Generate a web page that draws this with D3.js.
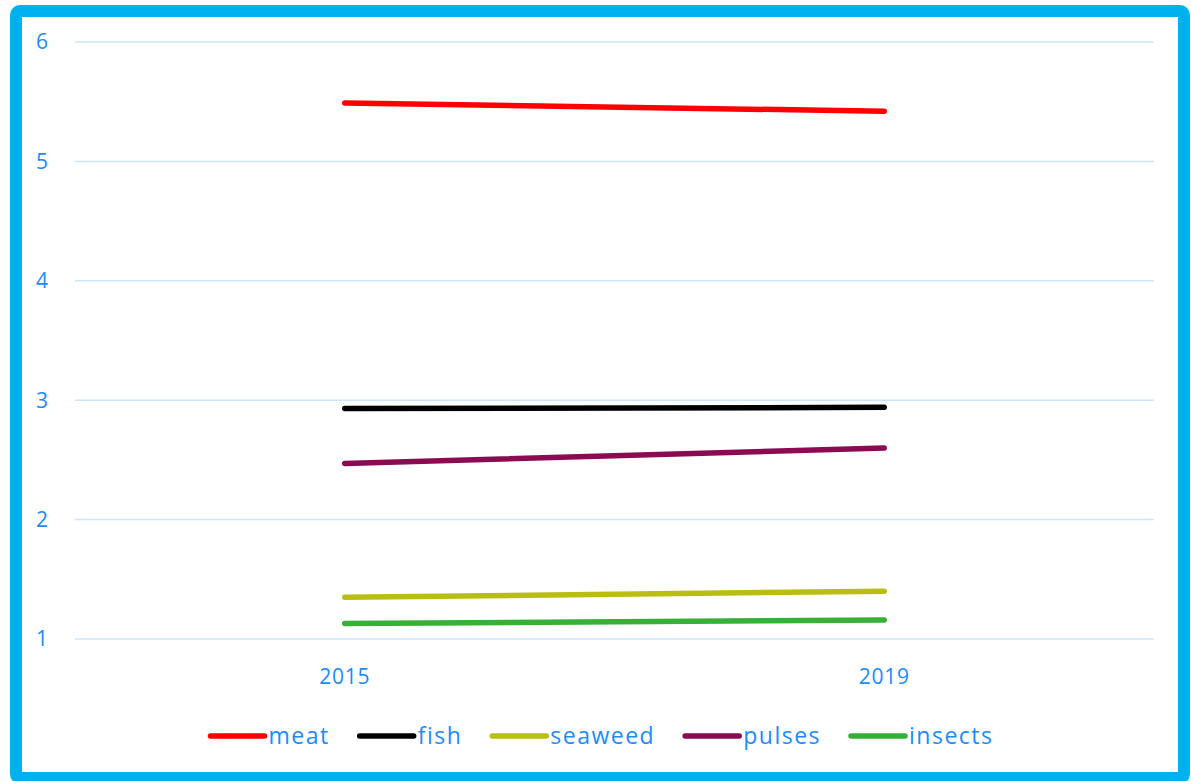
<!DOCTYPE html>
<head>
<meta charset="utf-8">
<style>
  body { margin: 0; background: #fff; }
  text { font-family: "Open Sans", sans-serif; fill: #1a8cff; }
</style>
</head>
<body>
<script src="https://cdn.jsdelivr.net/npm/d3@7"></script>
<script>
var years = ["2015", "2019"];
var seriesNames = ["meat", "fish", "seaweed", "pulses", "insects"];
var meat = [5.49, 5.42];
var fish = [2.93, 2.94];
var seaweed = [1.35, 1.40];
var pulses = [2.47, 2.60];
var insects = [1.13, 1.16];
var yTicks = [1, 2, 3, 4, 5, 6];
var colors = ["#ff0000", "#000000", "#b8bf12", "#8a0b52", "#36b037"];

var W = 1191, H = 781;
var margin = { top: 42, left: 75, right: 37, bottom: 142 };
var width = W - margin.left - margin.right,
    height = H - margin.top - margin.bottom;

var svg = d3.select("body").append("svg")
    .attr("width", W).attr("height", H);

// frame
svg.append("rect")
    .attr("x", 16).attr("y", 11)
    .attr("width", 1168).attr("height", 767)
    .attr("rx", 4)
    .attr("fill", "#fff")
    .attr("stroke", "#00b1f0")
    .attr("stroke-width", 12);

var g = svg.append("g")
    .attr("transform", "translate(" + margin.left + "," + margin.top + ")");

var x = d3.scaleBand().domain(years).range([0, width]).padding(0);
var y = d3.scaleLinear().domain([1, 6]).range([height, 0]);

// grid
g.selectAll(".grid").data(yTicks).enter().append("line")
    .attr("x1", 0).attr("x2", width)
    .attr("y1", function (d) { return y(d); })
    .attr("y2", function (d) { return y(d); })
    .attr("stroke", "#cce5fb").attr("stroke-width", 1.5);

// y labels
g.selectAll(".ylab").data(yTicks).enter().append("text")
    .attr("x", -33)
    .attr("y", function (d) { return y(d); })
    .attr("dy", "0.35em")
    .attr("text-anchor", "middle")
    .style("font-size", "21px")
    .text(function (d) { return d; });

// x labels
g.selectAll(".xlab").data(years).enter().append("text")
    .attr("x", function (d) { return x(d) + x.bandwidth() / 2; })
    .attr("y", height + 38)
    .attr("dy", "0.35em")
    .attr("text-anchor", "middle")
    .style("font-size", "21px")
    .style("letter-spacing", "0.8px")
    .text(function (d) { return d; });

var series = [meat, fish, seaweed, pulses, insects];
var line = d3.line()
    .x(function (d, i) { return x(years[i]) + x.bandwidth() / 2; })
    .y(function (d) { return y(d); });

series.forEach(function (s, i) {
    g.append("path")
        .datum(s)
        .attr("fill", "none")
        .attr("stroke", colors[i])
        .attr("stroke-width", 5.5)
        .attr("stroke-linecap", "round")
        .attr("d", line);
});

// legend
var legend = svg.append("g");
var lx = 0;
seriesNames.forEach(function (name, i) {
    var item = legend.append("g").attr("transform", "translate(" + lx + ",0)");
    item.append("line")
        .attr("x1", 0).attr("x2", 54)
        .attr("y1", 0).attr("y2", 0)
        .attr("stroke", colors[i])
        .attr("stroke-width", 5.5)
        .attr("stroke-linecap", "round");
    var t = item.append("text")
        .attr("x", 58).attr("y", 0).attr("dy", "0.35em")
        .style("font-size", "23px")
        .style("letter-spacing", "1.5px")
        .text(name);
    lx += 58 + t.node().getComputedTextLength() + 30;
});
lx -= 30;
legend.attr("transform", "translate(" + (602 - lx / 2) + ",736)");
</script>
</body>
